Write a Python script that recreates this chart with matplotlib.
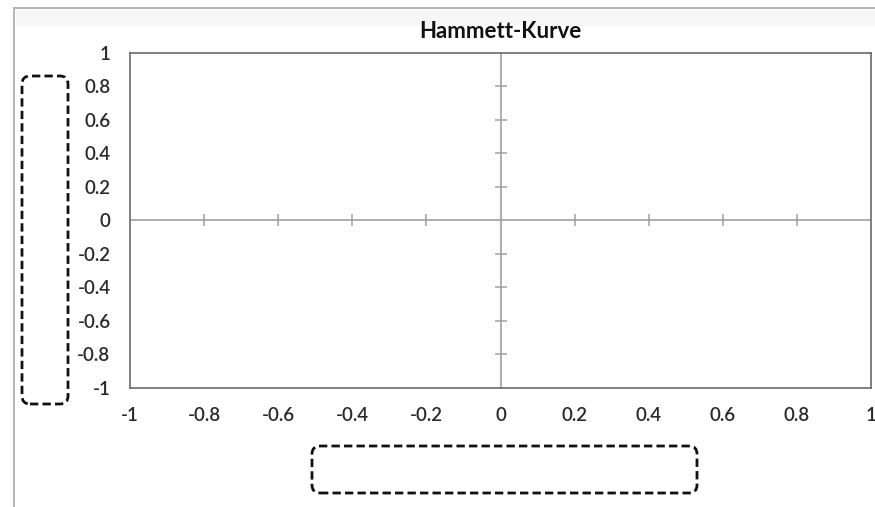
import matplotlib.pyplot as plt
from matplotlib.patches import FancyBboxPatch, Rectangle
from matplotlib.lines import Line2D
from matplotlib.transforms import IdentityTransform

title = 'Hammett-Kurve'
x_ticks = [-1, -0.8, -0.6, -0.4, -0.2, 0, 0.2, 0.4, 0.6, 0.8, 1]
y_ticks = [-1, -0.8, -0.6, -0.4, -0.2, 0, 0.2, 0.4, 0.6, 0.8, 1]
x_labels = ['-1', '-0.8', '-0.6', '-0.4', '-0.2', '0', '0.2', '0.4', '0.6', '0.8', '1']
y_labels = ['-1', '-0.8', '-0.6', '-0.4', '-0.2', '0', '0.2', '0.4', '0.6', '0.8', '1']

W, H = 875, 507
plt.rcParams['font.family'] = ['Lato', 'DejaVu Sans']

fig = plt.figure(figsize=(W / 100, H / 100), dpi=100)
fig.patch.set_facecolor('white')

px = IdentityTransform()

# outer chart border (cropped screenshot)
fig.add_artist(Rectangle((16, H - 26), W - 16, 16, transform=px,
                         facecolor='#f6f6f6', edgecolor='none'))
fig.add_artist(Line2D([14, W], [H - 8, H - 8], transform=px, color='#b4b4b4', lw=1.4))
fig.add_artist(Line2D([14, 14], [0, H - 8], transform=px, color='#b4b4b4', lw=1.4))

ax = fig.add_axes([130 / W, 1 - 388 / H, 741 / W, 335.5 / H])
ax.set_xlim(-1, 1)
ax.set_ylim(-1, 1)
for s in ax.spines.values():
    s.set_color('#6a6a6a')
    s.set_linewidth(1.2)

ax.set_xticks(x_ticks)
ax.set_xticklabels(x_labels, fontweight='semibold')
ax.set_yticks(y_ticks)
ax.set_yticklabels(y_labels, fontweight='semibold')
ax.tick_params(axis='x', length=0, pad=14, labelsize=13.5, labelcolor='#2a2a2a')
ax.tick_params(axis='y', length=0, pad=14, labelsize=13.5, labelcolor='#2a2a2a')

# axes crossing at zero, with cross ticks
ax.axhline(0, color='#a0a0a0', lw=1.2)
ax.axvline(0, color='#a0a0a0', lw=1.2)
inner_x = [v for v in x_ticks if v not in (-1, 0, 1)]
inner_y = [v for v in y_ticks if v not in (-1, 0, 1)]
ax.plot(inner_x, [0] * len(inner_x), linestyle='none', marker='|',
        markersize=9, markeredgewidth=1.1, color='#a0a0a0')
ax.plot([0] * len(inner_y), inner_y, linestyle='none', marker='_',
        markersize=9, markeredgewidth=1.1, color='#a0a0a0')

fig.text(500 / W, 1 - 31 / H, title, ha='center', va='center',
         fontsize=16, fontweight='bold', color='#111111')

# dashed placeholder boxes for axis titles
for x0, y0, w, h in [(22, H - 404, 46, 328), (312, H - 493, 385, 47)]:
    fig.add_artist(FancyBboxPatch((x0, y0), w, h, boxstyle='round,pad=0,rounding_size=8',
                                  transform=px, facecolor='none', edgecolor='#111111',
                                  lw=2, linestyle=(0, (3, 1.5))))

fig.savefig('out.png', dpi=100)
